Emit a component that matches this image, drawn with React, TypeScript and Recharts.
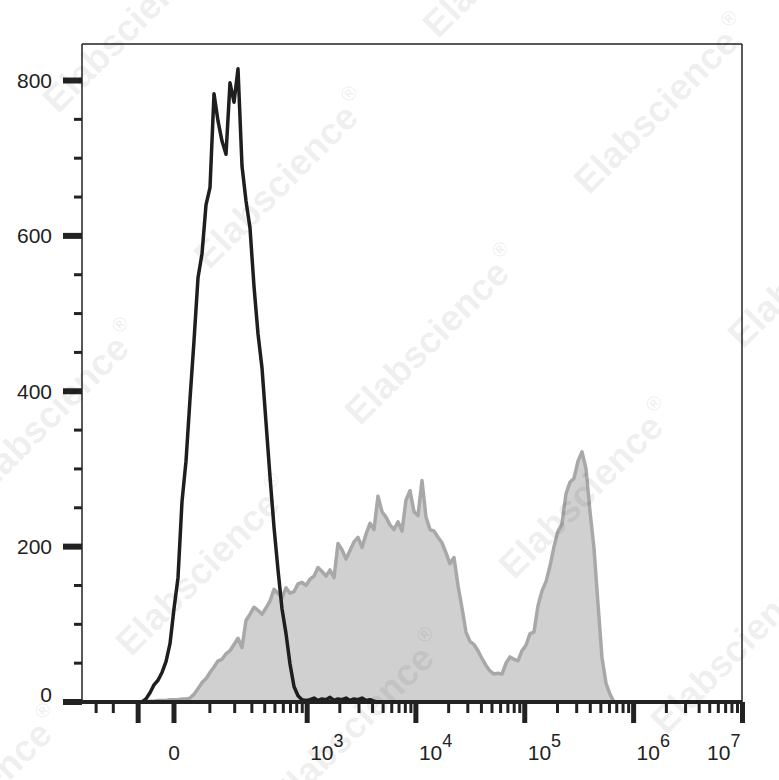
import React from "react";
import {
  Area,
  ComposedChart,
  Line,
  ReferenceLine,
  XAxis,
  YAxis,
} from "recharts";

// histogram channels across the plot (4 px each)
const CHANNELS = 165;
const Y_MAX = 847;

const unstainedStart = 15;
const unstained = [
  0, 4, 12, 22, 28, 38, 52, 75, 120, 160, 258, 310, 390, 465, 546, 577, 640,
  662, 783, 748, 722, 705, 797, 772, 815, 690, 645, 610, 535, 474, 430, 360,
  290, 225, 170, 120, 88, 49, 20, 8, 3, 2, 3, 5, 2, 4, 3, 6, 2, 4, 3, 5, 2, 4,
  3, 5, 2, 3, 1, 0,
];

const stainedStart = 16;
const stained = [
  0, 1, 1, 2, 2, 2, 3, 3, 3, 4, 4, 5, 10, 17, 25, 30, 38, 45, 53, 55, 62, 66,
  74, 82, 70, 105, 113, 122, 118, 113, 121, 130, 145, 140, 134, 147, 140, 142,
  152, 154, 150, 158, 162, 173, 168, 162, 170, 160, 204, 196, 184, 195, 206,
  212, 199, 216, 230, 222, 265, 245, 238, 228, 222, 232, 220, 260, 272, 245,
  240, 285, 238, 222, 220, 212, 205, 192, 178, 186, 150, 121, 90, 78, 74, 66,
  56, 47, 40, 36, 37, 36, 50, 58, 55, 53, 66, 73, 88, 90, 124, 143, 155, 175,
  200, 220, 229, 268, 283, 288, 310, 322, 300, 245, 198, 126, 57, 24, 10, 0,
];

const yTicks = [
  0, 50, 100, 150, 200, 250, 300, 350, 400, 450, 500, 550, 600, 650, 700, 750,
  800,
];
const yLabelled = [0, 200, 400, 600, 800];

const decadeTicks = [0, 1e3, 1e4, 1e5, 1e6, 1e7];
const decadeExponents = ["", "3", "4", "5", "6", "7"];
const longUnlabelled = [-100];
const minorTicks = [
  -300, -200, 100, 200, 300, 400, 500, 600, 700, 800, 900, 2e3, 3e3, 4e3, 5e3,
  6e3, 7e3, 8e3, 9e3, 2e4, 3e4, 4e4, 5e4, 6e4, 7e4, 8e4, 9e4, 2e5, 3e5, 4e5,
  5e5, 6e5, 7e5, 8e5, 9e5, 2e6, 3e6, 4e6, 5e6, 6e6, 7e6, 8e6, 9e6,
];

// biexponential-ish display transform (value -> channel)
const ZERO_CH = 23;
const SPREAD = 11.82;
const LINEAR_WIDTH = 120;
const toChannel = (v: number) => ZERO_CH + SPREAD * Math.asinh(v / LINEAR_WIDTH);

const watermarks = [
  [131, 24], [511, -51], [282, 180], [662, 105], [53, 411], [433, 336],
  [816, 259], [204, 567], [587, 490], [-24, 797], [358, 721], [739, 645],
];

const data = Array.from({ length: CHANNELS + 1 }, (_, ch) => {
  const u = ch - unstainedStart;
  const s = ch - stainedStart;
  return {
    ch,
    unstained: u >= 0 && u < unstained.length ? unstained[u] : null,
    stained: s >= 0 && s < stained.length ? stained[s] : null,
  };
});

type TickMeta = {
  ch: number;
  major: boolean;
  long?: boolean;
  exp?: string;
  zero?: boolean;
  last?: boolean;
};
const xTickMeta: TickMeta[] = [
  ...minorTicks.map((v) => ({ ch: toChannel(v), major: false })),
  ...longUnlabelled.map((v) => ({ ch: toChannel(v), major: false, long: true })),
  ...decadeTicks.map((v, i) => ({
    ch: toChannel(v),
    major: true,
    exp: decadeExponents[i],
    zero: v === 0,
    last: i === decadeTicks.length - 1,
  })),
].sort((a, b) => a.ch - b.ch);

const FONT = '"Liberation Sans", Arial, sans-serif';
const INK = "#222";

function XTick(props: any) {
  const { x, y, payload } = props;
  const t = xTickMeta.find((m) => Math.abs(m.ch - payload.value) < 1e-6);
  if (!t) return null;
  const len = t.major || t.long ? 21 : 11;
  let label = null;
  if (t.major && t.zero) {
    label = (
      <text x={x} y={y + 58} textAnchor="middle" fontSize={21} fill={INK} fontFamily={FONT}>
        0
      </text>
    );
  } else if (t.major) {
    label = (
      <text
        x={t.last ? x - 2 : x + 3}
        y={y + 58}
        textAnchor={t.last ? "end" : "start"}
        fontSize={21}
        fill={INK}
        fontFamily={FONT}
      >
        <tspan>10</tspan>
        <tspan dy={-13} fontSize={18}>
          {t.exp}
        </tspan>
      </text>
    );
  }
  return (
    <g>
      <line
        x1={x}
        x2={x}
        y1={y}
        y2={y + len}
        stroke={INK}
        strokeWidth={t.major || t.long ? 5 : 3}
      />
      {label}
    </g>
  );
}

function YTick(props: any) {
  const { x, y, payload } = props;
  const major = yLabelled.includes(payload.value);
  return (
    <g>
      <line
        x1={major ? x - 19 : x - 8}
        x2={x}
        y1={y}
        y2={y}
        stroke={INK}
        strokeWidth={major ? 6 : 3}
      />
      {major && (
        <text
          x={x - 30}
          y={payload.value === 0 ? y - 8 : y}
          dy="0.36em"
          textAnchor="end"
          fontSize={21}
          fill={INK}
          fontFamily={FONT}
        >
          {payload.value}
        </text>
      )}
    </g>
  );
}

export default function App() {
  return (
    <div
      style={{
        position: "absolute",
        left: 0,
        top: 0,
        width: 779,
        height: 780,
        background: "#fff",
        overflow: "hidden",
      }}
    >
      <ComposedChart
        width={779}
        height={780}
        data={data}
        margin={{ top: 44, right: 37, bottom: 18, left: 0 }}
      >
        <XAxis
          type="number"
          dataKey="ch"
          domain={[0, CHANNELS]}
          ticks={xTickMeta.map((t) => t.ch)}
          interval={0}
          tick={<XTick />}
          tickLine={false}
          tickSize={0}
          tickMargin={0}
          axisLine={false}
          height={60}
          allowDataOverflow
        />
        <YAxis
          type="number"
          domain={[0, Y_MAX]}
          ticks={yTicks}
          interval={0}
          tick={<YTick />}
          tickLine={false}
          tickSize={0}
          tickMargin={0}
          axisLine={{ stroke: INK, strokeWidth: 1.5 }}
          width={82}
          allowDataOverflow
        />
        <Area
          type="linear"
          dataKey="stained"
          fill="#d0d0d0"
          fillOpacity={1}
          stroke="#a8a8a8"
          strokeWidth={3.5}
          strokeLinejoin="round"
          isAnimationActive={false}
          dot={false}
          activeDot={false}
        />
        <Line
          type="linear"
          dataKey="unstained"
          stroke="#1e1e1e"
          strokeWidth={3.5}
          strokeLinejoin="round"
          dot={false}
          activeDot={false}
          isAnimationActive={false}
        />
        <ReferenceLine y={0} stroke={INK} strokeWidth={4} />
        <ReferenceLine y={Y_MAX} stroke={INK} strokeWidth={1.5} />
        <ReferenceLine x={CHANNELS} stroke={INK} strokeWidth={1.5} />
      </ComposedChart>
      <svg
        width={779}
        height={780}
        style={{ position: "absolute", left: 0, top: 0, pointerEvents: "none" }}
      >
        {watermarks.map(([cx, cy], i) => (
          <text
            key={i}
            x={cx}
            y={cy}
            textAnchor="middle"
            dominantBaseline="central"
            transform={`rotate(-45 ${cx} ${cy})`}
            fontFamily={FONT}
            fontWeight="bold"
            fontSize={37}
            fill="#000"
            fillOpacity={0.075}
          >
            Elabscience
            <tspan fontSize={20} dx={3} dy={-14}>
              ®
            </tspan>
          </text>
        ))}
      </svg>
    </div>
  );
}
